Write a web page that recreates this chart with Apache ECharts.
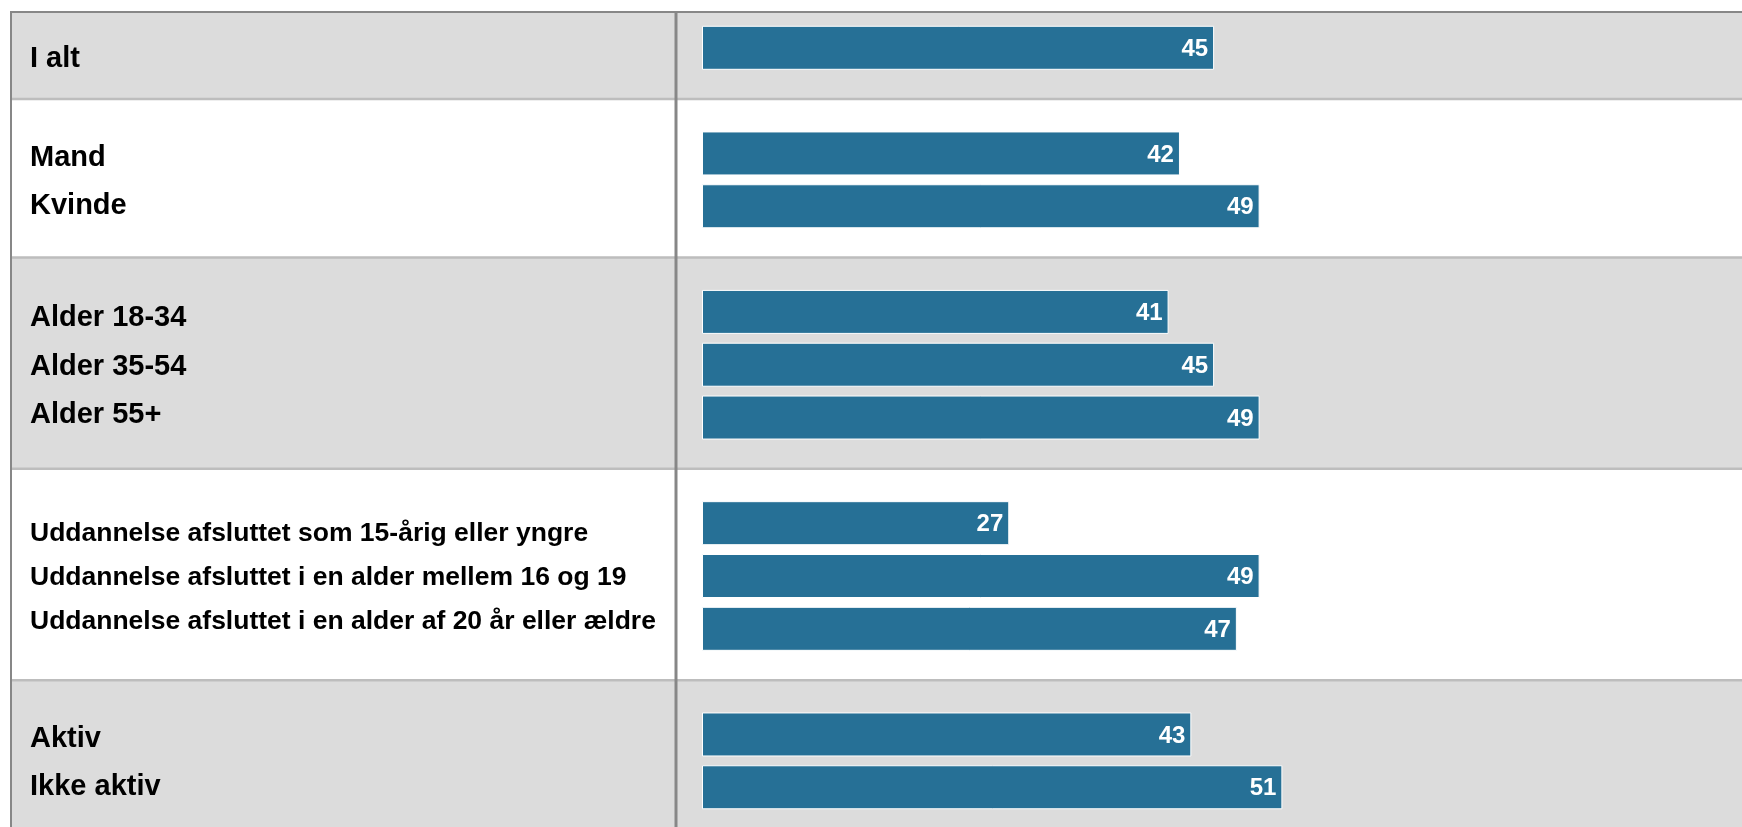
<!DOCTYPE html>
<html>
<head>
<meta charset="utf-8">
<script src="https://cdn.jsdelivr.net/npm/echarts@6/dist/echarts.min.js"></script>
<style>
  html, body { margin: 0; padding: 0; background: #fff; }
  #chart { width: 1742px; height: 827px; }
</style>
</head>
<body>
<div id="chart"></div>
<script>
// one entry per group, rows are drawn top to bottom
const groupLabels = [
    ['I alt'],
    ['Mand', 'Kvinde'],
    ['Alder 18-34', 'Alder 35-54', 'Alder 55+'],
    ['Uddannelse afsluttet som 15-årig eller yngre',
     'Uddannelse afsluttet i en alder mellem 16 og 19',
     'Uddannelse afsluttet i en alder af 20 år eller ældre'],
    ['Aktiv', 'Ikke aktiv'],
];
const groupValues = [
    [45],
    [42, 49],
    [41, 45, 49],
    [27, 49, 47],
    [43, 51],
];
const groupShaded = [true, false, true, false, true];
const smallTextGroups = [3];

// flatten into category slots, with an empty slot after every group
const categories = [];
const values = [];
const gapIndex = [];
groupLabels.forEach((rows, g) => {
    rows.forEach((name, i) => {
        categories.push(name);
        values.push(groupValues[g][i]);
    });
    gapIndex.push(categories.length);
    categories.push('_gap' + g);
    values.push(null);
});

const chart = echarts.init(document.getElementById('chart'));
const slot = 52.82;

chart.setOption({
    animation: false,
    grid: {
        left: 702,
        top: 47.8 - slot / 2,
        width: 1138,
        height: slot * categories.length,
        outerBoundsMode: 'none',
        containLabel: false,
    },
    xAxis: {
        type: 'value',
        min: 0,
        max: 100,
        show: false,
    },
    yAxis: {
        type: 'category',
        inverse: true,
        data: categories,
        show: false,
    },
    series: [{
        type: 'bar',
        data: values,
        barWidth: 44,
        clip: false,
        itemStyle: {
            color: '#267096',
            borderColor: '#ffffff',
            borderWidth: 1,
        },
        label: {
            show: true,
            position: 'insideRight',
            distance: 6,
            offset: [0, 1.5],
            color: '#ffffff',
            fontFamily: 'Liberation Sans',
            fontWeight: 'bold',
            fontSize: 24,
        },
    }],
});

// background bands, separators and group labels, placed from the category axis
const sepShift = -1.5;
const yPx = (i) => chart.convertToPixel({ yAxisIndex: 0 }, i) + sepShift;
const frameTop = 12;
const frameLeft = 11;
const fullWidth = 1742;
const graphics = [];
const seps = [];
groupLabels.forEach((rows, g) => {
    const top = g === 0 ? frameTop : yPx(gapIndex[g - 1]);
    const bottom = yPx(gapIndex[g]);
    seps.push(bottom);
    graphics.push({
        type: 'rect',
        silent: true,
        z: 0,
        shape: { x: frameLeft, y: top, width: fullWidth - frameLeft, height: bottom - top },
        style: { fill: groupShaded[g] ? '#dcdcdc' : '#ffffff' },
    });
    const small = smallTextGroups.indexOf(g) >= 0;
    graphics.push({
        type: 'text',
        silent: true,
        z: 3,
        x: 30,
        y: (top + bottom) / 2 + 3.5,
        style: {
            text: rows.join('\n'),
            fill: '#000000',
            fontFamily: 'Liberation Sans',
            fontWeight: 'bold',
            fontSize: small ? 26.5 : 29,
            lineHeight: small ? 44 : 48.5,
            verticalAlign: 'middle',
            align: 'left',
        },
    });
});
seps.slice(0, -1).forEach((y) => {
    graphics.push({
        type: 'line',
        silent: true,
        z: 1,
        shape: { x1: frameLeft, y1: y, x2: fullWidth, y2: y },
        style: { stroke: '#bdbdbd', lineWidth: 2.5 },
    });
});
graphics.push({
    type: 'line', silent: true, z: 2,
    shape: { x1: frameLeft - 1, y1: frameTop, x2: fullWidth, y2: frameTop },
    style: { stroke: '#878787', lineWidth: 2 },
});
graphics.push({
    type: 'line', silent: true, z: 2,
    shape: { x1: frameLeft, y1: frameTop, x2: frameLeft, y2: 827 },
    style: { stroke: '#878787', lineWidth: 2 },
});
graphics.push({
    type: 'line', silent: true, z: 2,
    shape: { x1: 676, y1: frameTop, x2: 676, y2: 827 },
    style: { stroke: '#878787', lineWidth: 3 },
});
chart.setOption({ graphic: graphics });
</script>
</body>
</html>
